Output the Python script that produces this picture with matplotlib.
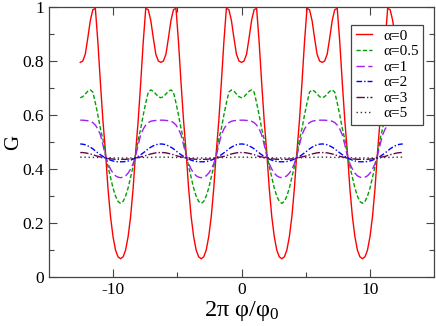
import numpy as np
import matplotlib
matplotlib.use("Agg")
import matplotlib.pyplot as plt

plt.rcParams['font.family'] = ['Liberation Serif', 'DejaVu Serif']
plt.rcParams['mathtext.fontset'] = 'custom'
plt.rcParams['mathtext.rm'] = 'Liberation Serif'
plt.rcParams['mathtext.it'] = 'Liberation Serif:italic'
plt.rcParams['axes.unicode_minus'] = False

# 2*pi*phi/phi0 from -4pi to 4pi, step pi/16
x = np.linspace(-4 * np.pi, 4 * np.pi, 129)

g_a0 = [
    0.795, 0.80, 0.825, 0.885, 0.95, 0.99, 0.995, 0.87, 0.72, 0.58, 0.465, 0.33, 0.225, 0.15, 0.10, 0.075, 0.068, 0.075, 0.10, 0.15, 0.225, 0.33, 0.465, 0.58, 0.72, 0.87, 0.995, 0.99, 0.95, 0.885, 0.825, 0.80,
    0.795, 0.80, 0.825, 0.885, 0.95, 0.99, 0.995, 0.87, 0.72, 0.58, 0.465, 0.33, 0.225, 0.15, 0.10, 0.075, 0.068, 0.075, 0.10, 0.15, 0.225, 0.33, 0.465, 0.58, 0.72, 0.87, 0.995, 0.99, 0.95, 0.885, 0.825, 0.80,
    0.795, 0.80, 0.825, 0.885, 0.95, 0.99, 0.995, 0.87, 0.72, 0.58, 0.465, 0.33, 0.225, 0.15, 0.10, 0.075, 0.068, 0.075, 0.10, 0.15, 0.225, 0.33, 0.465, 0.58, 0.72, 0.87, 0.995, 0.99, 0.95, 0.885, 0.825, 0.80,
    0.795, 0.80, 0.825, 0.885, 0.95, 0.99, 0.995, 0.87, 0.72, 0.58, 0.465, 0.33, 0.225, 0.15, 0.10, 0.075, 0.068, 0.075, 0.10, 0.15, 0.225, 0.33, 0.465, 0.58, 0.72, 0.87, 0.995, 0.99, 0.95, 0.885, 0.825, 0.80,
    0.795]

g_a05 = [
    0.664, 0.668, 0.678, 0.688, 0.693, 0.685, 0.645, 0.60, 0.55, 0.51, 0.455, 0.41, 0.37, 0.33, 0.30, 0.28, 0.273, 0.28, 0.30, 0.33, 0.37, 0.41, 0.455, 0.51, 0.55, 0.60, 0.645, 0.685, 0.693, 0.688, 0.678, 0.668,
    0.664, 0.668, 0.678, 0.688, 0.693, 0.685, 0.645, 0.60, 0.55, 0.51, 0.455, 0.41, 0.37, 0.33, 0.30, 0.28, 0.273, 0.28, 0.30, 0.33, 0.37, 0.41, 0.455, 0.51, 0.55, 0.60, 0.645, 0.685, 0.693, 0.688, 0.678, 0.668,
    0.664, 0.668, 0.678, 0.688, 0.693, 0.685, 0.645, 0.60, 0.55, 0.51, 0.455, 0.41, 0.37, 0.33, 0.30, 0.28, 0.273, 0.28, 0.30, 0.33, 0.37, 0.41, 0.455, 0.51, 0.55, 0.60, 0.645, 0.685, 0.693, 0.688, 0.678, 0.668,
    0.664, 0.668, 0.678, 0.688, 0.693, 0.685, 0.645, 0.60, 0.55, 0.51, 0.455, 0.41, 0.37, 0.33, 0.30, 0.28, 0.273, 0.28, 0.30, 0.33, 0.37, 0.41, 0.455, 0.51, 0.55, 0.60, 0.645, 0.685, 0.693, 0.688, 0.678, 0.668,
    0.664]

g_a1 = [
    0.581, 0.581, 0.580, 0.579, 0.577, 0.572, 0.563, 0.548, 0.527, 0.49, 0.45, 0.42, 0.40, 0.385, 0.375, 0.37, 0.368, 0.37, 0.375, 0.385, 0.40, 0.42, 0.45, 0.49, 0.527, 0.548, 0.563, 0.572, 0.577, 0.579, 0.580, 0.581,
    0.581, 0.581, 0.580, 0.579, 0.577, 0.572, 0.563, 0.548, 0.527, 0.49, 0.45, 0.42, 0.40, 0.385, 0.375, 0.37, 0.368, 0.37, 0.375, 0.385, 0.40, 0.42, 0.45, 0.49, 0.527, 0.548, 0.563, 0.572, 0.577, 0.579, 0.580, 0.581,
    0.581, 0.581, 0.580, 0.579, 0.577, 0.572, 0.563, 0.548, 0.527, 0.49, 0.45, 0.42, 0.40, 0.385, 0.375, 0.37, 0.368, 0.37, 0.375, 0.385, 0.40, 0.42, 0.45, 0.49, 0.527, 0.548, 0.563, 0.572, 0.577, 0.579, 0.580, 0.581,
    0.581, 0.581, 0.580, 0.579, 0.577, 0.572, 0.563, 0.548, 0.527, 0.49, 0.45, 0.42, 0.40, 0.385, 0.375, 0.37, 0.368, 0.37, 0.375, 0.385, 0.40, 0.42, 0.45, 0.49, 0.527, 0.548, 0.563, 0.572, 0.577, 0.579, 0.580, 0.581,
    0.581]

g_a2 = [
    0.493, 0.492, 0.490, 0.486, 0.481, 0.475, 0.467, 0.460, 0.453, 0.447, 0.442, 0.437, 0.433, 0.430, 0.428, 0.427, 0.427, 0.427, 0.428, 0.430, 0.433, 0.437, 0.442, 0.447, 0.453, 0.460, 0.467, 0.475, 0.481, 0.486, 0.490, 0.492,
    0.493, 0.492, 0.490, 0.486, 0.481, 0.475, 0.467, 0.460, 0.453, 0.447, 0.442, 0.437, 0.433, 0.430, 0.428, 0.427, 0.427, 0.427, 0.428, 0.430, 0.433, 0.437, 0.442, 0.447, 0.453, 0.460, 0.467, 0.475, 0.481, 0.486, 0.490, 0.492,
    0.493, 0.492, 0.490, 0.486, 0.481, 0.475, 0.467, 0.460, 0.453, 0.447, 0.442, 0.437, 0.433, 0.430, 0.428, 0.427, 0.427, 0.427, 0.428, 0.430, 0.433, 0.437, 0.442, 0.447, 0.453, 0.460, 0.467, 0.475, 0.481, 0.486, 0.490, 0.492,
    0.493, 0.492, 0.490, 0.486, 0.481, 0.475, 0.467, 0.460, 0.453, 0.447, 0.442, 0.437, 0.433, 0.430, 0.428, 0.427, 0.427, 0.427, 0.428, 0.430, 0.433, 0.437, 0.442, 0.447, 0.453, 0.460, 0.467, 0.475, 0.481, 0.486, 0.490, 0.492,
    0.493]

g_a3 = [
    0.461, 0.461, 0.460, 0.458, 0.456, 0.453, 0.450, 0.447, 0.445, 0.443, 0.441, 0.439, 0.438, 0.437, 0.436, 0.436, 0.436, 0.436, 0.436, 0.437, 0.438, 0.439, 0.441, 0.443, 0.445, 0.447, 0.450, 0.453, 0.456, 0.458, 0.460, 0.461,
    0.461, 0.461, 0.460, 0.458, 0.456, 0.453, 0.450, 0.447, 0.445, 0.443, 0.441, 0.439, 0.438, 0.437, 0.436, 0.436, 0.436, 0.436, 0.436, 0.437, 0.438, 0.439, 0.441, 0.443, 0.445, 0.447, 0.450, 0.453, 0.456, 0.458, 0.460, 0.461,
    0.461, 0.461, 0.460, 0.458, 0.456, 0.453, 0.450, 0.447, 0.445, 0.443, 0.441, 0.439, 0.438, 0.437, 0.436, 0.436, 0.436, 0.436, 0.436, 0.437, 0.438, 0.439, 0.441, 0.443, 0.445, 0.447, 0.450, 0.453, 0.456, 0.458, 0.460, 0.461,
    0.461, 0.461, 0.460, 0.458, 0.456, 0.453, 0.450, 0.447, 0.445, 0.443, 0.441, 0.439, 0.438, 0.437, 0.436, 0.436, 0.436, 0.436, 0.436, 0.437, 0.438, 0.439, 0.441, 0.443, 0.445, 0.447, 0.450, 0.453, 0.456, 0.458, 0.460, 0.461,
    0.461]

g_a5 = [
    0.444, 0.444, 0.444, 0.444, 0.443, 0.443, 0.443, 0.443, 0.443, 0.442, 0.442, 0.442, 0.442, 0.441, 0.441, 0.441, 0.441, 0.441, 0.441, 0.441, 0.441, 0.442, 0.442, 0.442, 0.442, 0.443, 0.443, 0.443, 0.443, 0.444, 0.444, 0.444,
    0.444, 0.444, 0.444, 0.444, 0.443, 0.443, 0.443, 0.443, 0.443, 0.442, 0.442, 0.442, 0.442, 0.441, 0.441, 0.441, 0.441, 0.441, 0.441, 0.441, 0.441, 0.442, 0.442, 0.442, 0.442, 0.443, 0.443, 0.443, 0.443, 0.444, 0.444, 0.444,
    0.444, 0.444, 0.444, 0.444, 0.443, 0.443, 0.443, 0.443, 0.443, 0.442, 0.442, 0.442, 0.442, 0.441, 0.441, 0.441, 0.441, 0.441, 0.441, 0.441, 0.441, 0.442, 0.442, 0.442, 0.442, 0.443, 0.443, 0.443, 0.443, 0.444, 0.444, 0.444,
    0.444, 0.444, 0.444, 0.444, 0.443, 0.443, 0.443, 0.443, 0.443, 0.442, 0.442, 0.442, 0.442, 0.441, 0.441, 0.441, 0.441, 0.441, 0.441, 0.441, 0.441, 0.442, 0.442, 0.442, 0.442, 0.443, 0.443, 0.443, 0.443, 0.444, 0.444, 0.444,
    0.444]

labels = ["α=0", "α=0.5", "α=1", "α=2", "α=3", "α=5"]

fig = plt.figure(figsize=(4.36, 3.26), dpi=100)
ax = fig.add_axes([0.1124, 0.150, 0.883, 0.8285])

ax.plot(x, g_a0, color='#ff0000', lw=1.0, label=labels[0])
ax.plot(x, g_a05, color='#00a000', lw=1.0, dashes=(3, 1.6), label=labels[1])
ax.plot(x, g_a1, color='#a020f0', lw=1.0, dashes=(6, 2.5), label=labels[2])
ax.plot(x, g_a2, color='#0000ff', lw=1.0, dashes=(4, 1.5, 1, 1.5), label=labels[3])
ax.plot(x, g_a3, color='#670748', lw=1.0, dashes=(6, 1.5, 1, 1.5), label=labels[4])
ax.plot(x, g_a5, color='#333333', lw=1.0, dashes=(1, 2), label=labels[5])

ax.set_xlim(-15, 15)
ax.set_ylim(0, 1)
ax.set_xticks([-10, 0, 10])
ax.set_xticks([-5, 5], minor=True)
ax.set_yticks([0, 0.2, 0.4, 0.6, 0.8, 1])
ax.set_yticklabels(["0", "0.2", "0.4", "0.6", "0.8", "1"])
ax.set_yticks([0.1, 0.3, 0.5, 0.7, 0.9], minor=True)
ax.tick_params(which='both', direction='in', top=True, right=True, labelsize=12.5, width=0.8, color='#444444')
ax.tick_params(which='major', length=6)
ax.tick_params(which='minor', length=3.5)
for s in ax.spines.values():
    s.set_linewidth(0.9)
    s.set_color('#444444')

ax.set_xlabel("2π φ/φ$_0$", fontsize=17.5, labelpad=1)
ax.set_ylabel("G", fontsize=15)
ax.yaxis.set_label_coords(-0.068, 0.5)

leg = ax.legend(loc='upper right', bbox_to_anchor=(0.972, 0.935), borderaxespad=0,
                fontsize=11, handlelength=1.1, handletextpad=0.7, labelspacing=0.12,
                borderpad=0.3, fancybox=False, framealpha=1, edgecolor='#444444')
leg.get_frame().set_linewidth(0.9)

fig.savefig("out.png", dpi=100)
